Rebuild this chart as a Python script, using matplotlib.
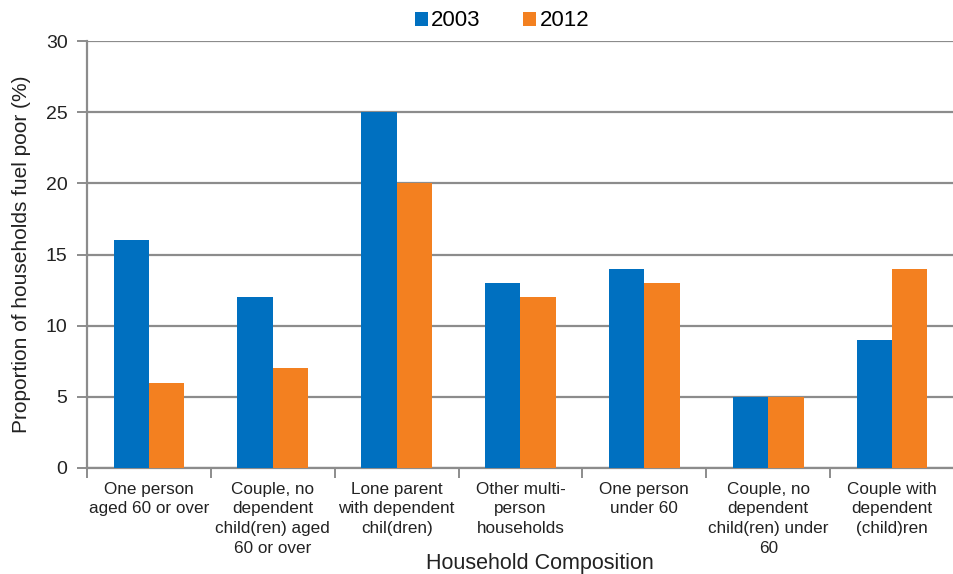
import matplotlib
matplotlib.use("Agg")
import matplotlib.pyplot as plt
import numpy as np

categories = ["One person\naged 60 or over",
              "Couple, no\ndependent\nchild(ren) aged\n60 or over",
              "Lone parent\nwith dependent\nchil(dren)",
              "Other multi-\nperson\nhouseholds",
              "One person\nunder 60",
              "Couple, no\ndependent\nchild(ren) under\n60",
              "Couple with\ndependent\n(child)ren"]
series_names = ["2003", "2012"]
values_2003 = [16, 12, 25, 13, 14, 5, 9]
values_2012 = [6, 7, 20, 12, 13, 5, 14]
yticks = [0, 5, 10, 15, 20, 25, 30]

plt.rcParams['font.family'] = ['Liberation Sans', 'DejaVu Sans']

W, H = 954, 574
fig = plt.figure(figsize=(W/100, H/100), dpi=100)
left, right, top, bottom = 87, 954, 41, 468
ax = fig.add_axes([left/W, 1-bottom/H, (right-left)/W, (bottom-top)/H])

x = np.arange(len(categories))
bw = 0.285
blue = "#0070C0"
orange = "#F38020"
b1 = ax.bar(x - bw/2, values_2003, bw, color=blue, label=series_names[0], zorder=3)
b2 = ax.bar(x + bw/2, values_2012, bw, color=orange, label=series_names[1], zorder=3)

ax.set_ylim(0, 30)
ax.set_xlim(-0.5, -0.5 + (right-left)/125.0)
ax.set_yticks(yticks)
ax.set_yticklabels([str(t) for t in yticks], fontsize=14, color="#222222")
ax.yaxis.grid(True, color="#8c8c8c", linewidth=1.6, zorder=0)
ax.set_axisbelow(True)

ax.set_xticks(np.arange(-0.5, len(categories) - 0.5 + 0.01, 1.0))
ax.set_xticklabels([])
ax.set_xticks(x, minor=True)
ax.set_xticklabels(categories, minor=True, fontsize=12.3, color="#222222", linespacing=1.38, va="top")
ax.tick_params(axis="x", which="minor", length=0, pad=10)
ax.tick_params(axis="x", which="major", length=7, width=1.4, color="#8c8c8c")
ax.tick_params(axis="y", length=7, width=1.4, color="#8c8c8c", pad=7)

for s in ["top", "right"]:
    ax.spines[s].set_visible(False)
for s in ["left", "bottom"]:
    ax.spines[s].set_color("#8c8c8c")
    ax.spines[s].set_linewidth(1.6)

ax.set_ylabel("Proportion of households fuel poor (%)", fontsize=15, color="#222222", labelpad=11)
fig.text(540/W, 1-563/H, "Household Composition", fontsize=15.5, color="#222222", ha="center", va="center")

leg = fig.legend(handles=[b1, b2], loc="center", bbox_to_anchor=(502/W, 1-21/H), ncol=2,
                 frameon=False, fontsize=16, handlelength=0.6, handleheight=0.6,
                 handletextpad=0.15, columnspacing=1.9)

fig.savefig("out.png", dpi=100)
